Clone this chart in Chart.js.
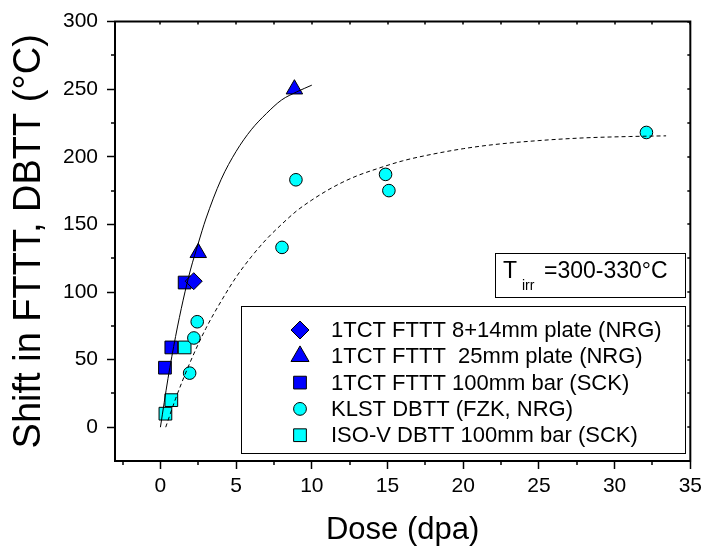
<!DOCTYPE html>
<html>
<head>
<meta charset="utf-8">
<script src="https://cdn.jsdelivr.net/npm/chart.js@4.4.1/dist/chart.umd.min.js"></script>
<style>
  body { margin: 0; background: #fff; }
  canvas { display: block; }
</style>
</head>
<body>
<canvas id="myChart" width="707" height="554"></canvas>
<script>
// measured points: dose (dpa) / shift (°C)
const diamondDose = [2.2]
const diamondShift = [108]
const triangleDose = [2.5, 8.85]
const triangleShift = [129, 250]
const squareDose = [0.3, 0.72, 1.6]
const squareShift = [44, 59, 107]
const klstDose = [1.93, 2.21, 2.43, 8.03, 8.95, 14.87, 15.09, 32.1]
const klstShift = [40, 66, 78, 133, 183, 187, 175, 218]
const isoDose = [0.33, 0.72, 1.6]
const isoShift = [10, 20, 59]

// fit curves
const fitSolidDose = [0, 0.5, 1, 1.5, 2, 2.5, 3, 4, 5, 6, 7, 8, 9, 10]
const fitSolidShift = [0, 36, 67, 94, 117, 136, 154, 183, 204, 220, 232, 242, 248, 253]
const fitDashDose = [0.35, 1, 2, 3, 4, 5, 6, 7, 8, 9, 10, 11, 12, 13, 14, 16, 18, 20, 22, 25, 28, 31, 33.4]
const fitDashShift = [0, 21, 49, 73, 93, 111, 126, 139, 150, 160, 168, 175, 181, 186, 190, 197, 202, 206, 209, 212, 214, 215, 215.5]

const legendLabels = [
    '1TCT FTTT 8+14mm plate (NRG)',
    '1TCT FTTT  25mm plate (NRG)',
    '1TCT FTTT 100mm bar (SCK)',
    'KLST DBTT (FZK, NRG)',
    'ISO-V DBTT 100mm bar (SCK)'
]

const xMin = -3, xMax = 35, xStep = 5
const yMin = -25, yMax = 300, yStep = 50

const FONT = '"Liberation Sans", Arial, sans-serif'
const BLUE = '#0000ff'
const CYAN = '#00ffff'

function pts(xs, ys) {
    return xs.map((x, i) => ({ x: x, y: ys[i] }))
}

function markerSet(label, xs, ys, style, color, r) {
    return {
        label: label,
        data: pts(xs, ys),
        pointStyle: style,
        pointRadius: r,
        pointHoverRadius: r,
        backgroundColor: color,
        borderColor: '#000',
        borderWidth: 1,
        showLine: false,
        order: 2
    }
}

function curveSet(xs, ys, dash) {
    return {
        label: '',
        data: pts(xs, ys),
        showLine: true,
        pointRadius: 0,
        borderColor: '#000',
        borderWidth: 1,
        borderDash: dash,
        cubicInterpolationMode: 'monotone',
        fill: false,
        order: 1
    }
}

const datasets = [
    markerSet(legendLabels[0], diamondDose, diamondShift, 'rectRot', BLUE, 8.5),
    markerSet(legendLabels[1], triangleDose, triangleShift, 'triangle', BLUE, 9.5),
    markerSet(legendLabels[2], squareDose, squareShift, 'rect', BLUE, 9),
    markerSet(legendLabels[3], klstDose, klstShift, 'circle', CYAN, 6.3),
    markerSet(legendLabels[4], isoDose, isoShift, 'rect', CYAN, 9),
    curveSet(fitSolidDose, fitSolidShift, []),
    curveSet(fitDashDose, fitDashShift, [4, 3])
]

// legend marker sizes (radius) as in the picture
const legendRadius = [9, 10.4, 9, 6.4, 9]

function drawMarker(ctx, style, r, x, y) {
    ctx.beginPath()
    if (style === 'circle') {
        ctx.arc(x, y, r, 0, Math.PI * 2)
    } else if (style === 'rect') {
        const s = r * Math.SQRT1_2
        ctx.rect(x - s, y - s, 2 * s, 2 * s)
    } else if (style === 'rectRot') {
        ctx.moveTo(x, y - r); ctx.lineTo(x + r, y); ctx.lineTo(x, y + r); ctx.lineTo(x - r, y); ctx.closePath()
    } else if (style === 'triangle') {
        const a = 2 * Math.PI / 3
        ctx.moveTo(x, y - r)
        ctx.lineTo(x + Math.sin(a) * r, y - Math.cos(a) * r)
        ctx.lineTo(x + Math.sin(2 * a) * r, y - Math.cos(2 * a) * r)
        ctx.closePath()
    }
    ctx.fill()
    ctx.stroke()
}

const decorations = {
    id: 'decorations',
    afterDraw(chart) {
        const ctx = chart.ctx
        const a = chart.chartArea
        const xs = chart.scales.x
        const ys = chart.scales.y
        ctx.save()
        ctx.strokeStyle = '#000'
        ctx.fillStyle = '#000'

        // top and right axis lines
        ctx.lineWidth = 2
        ctx.beginPath()
        ctx.moveTo(a.left - 1, a.top)
        ctx.lineTo(a.right, a.top)
        ctx.lineTo(a.right, a.bottom + 1)
        ctx.stroke()

        // minor ticks outside, mirror ticks inside
        ctx.lineWidth = 1.5
        ctx.beginPath()
        for (let v = -2.5; v < xMax; v += xStep) {
            const px = Math.round(xs.getPixelForValue(v))
            ctx.moveTo(px, a.bottom); ctx.lineTo(px, a.bottom + 4)
        }
        for (let v = 0; v <= xMax; v += xStep / 2) {
            const px = Math.round(xs.getPixelForValue(v))
            ctx.moveTo(px, a.top); ctx.lineTo(px, a.top + 3)
        }
        for (let v = 25; v < yMax; v += yStep) {
            const py = Math.round(ys.getPixelForValue(v))
            ctx.moveTo(a.left, py); ctx.lineTo(a.left - 4, py)
        }
        for (let v = 0; v <= yMax; v += yStep / 2) {
            const py = Math.round(ys.getPixelForValue(v))
            ctx.moveTo(a.right, py); ctx.lineTo(a.right - 3, py)
        }
        ctx.stroke()

        // T_irr box
        ctx.lineWidth = 1
        ctx.strokeRect(495.5, 253.5, 190, 44)
        ctx.textBaseline = 'alphabetic'
        ctx.textAlign = 'left'
        ctx.font = '23px ' + FONT
        ctx.fillText('T', 503, 278)
        ctx.font = '14px ' + FONT
        ctx.fillText('irr', 522, 290)
        ctx.font = '23px ' + FONT
        ctx.fillText('=300-330°C', 544, 278)

        // legend box
        ctx.strokeRect(241.5, 306.5, 444, 147)
        ctx.font = '22px ' + FONT
        ctx.textBaseline = 'middle'
        legendLabels.forEach((lab, i) => {
            const ds = chart.data.datasets[i]
            const y = 330 + i * 26.3
            ctx.fillStyle = ds.backgroundColor
            ctx.strokeStyle = '#000'
            ctx.lineWidth = 1
            drawMarker(ctx, ds.pointStyle, legendRadius[i], 300, y)
            ctx.fillStyle = '#000'
            ctx.fillText(lab, 331, y + 1)
        })
        ctx.restore()
    }
}

const config = {
    type: 'scatter',
    data: { datasets: datasets },
    options: {
        responsive: false,
        devicePixelRatio: 1,
        animation: false,
        layout: { padding: { top: 20, right: 13, left: 0, bottom: 0 } },
        plugins: {
            legend: { display: false },
            tooltip: { enabled: false }
        },
        scales: {
            x: {
                type: 'linear',
                min: xMin,
                max: xMax,
                ticks: {
                    stepSize: xStep,
                    color: '#000',
                    font: { family: FONT, size: 21 },
                    padding: 5,
                    maxRotation: 0,
                    autoSkip: false
                },
                afterBuildTicks: s => { s.ticks = s.ticks.filter(t => t.value >= 0) },
                afterFit: s => { s.height = 93 },
                grid: { drawOnChartArea: false, tickLength: 8, tickColor: '#000', tickWidth: 1.5 },
                border: { color: '#000', width: 2 },
                title: {
                    display: true,
                    text: 'Dose (dpa)',
                    color: '#000',
                    font: { family: FONT, size: 31 },
                    padding: { top: 0, bottom: 5 }
                }
            },
            y: {
                type: 'linear',
                min: yMin,
                max: yMax,
                ticks: {
                    stepSize: yStep,
                    color: '#000',
                    font: { family: FONT, size: 21 },
                    padding: 9
                },
                afterBuildTicks: s => { s.ticks = s.ticks.filter(t => t.value >= 0) },
                afterFit: s => { s.width = 115 },
                grid: { drawOnChartArea: false, tickLength: 8, tickColor: '#000', tickWidth: 1.5 },
                border: { color: '#000', width: 2 },
                title: {
                    display: true,
                    text: 'Shift in FTTT, DBTT (°C)',
                    color: '#000',
                    font: { family: FONT, size: 38 },
                    padding: { top: 7, bottom: 0 }
                }
            }
        }
    },
    plugins: [decorations]
}

const myChart = new Chart(document.getElementById('myChart'), config)
</script>
</body>
</html>
